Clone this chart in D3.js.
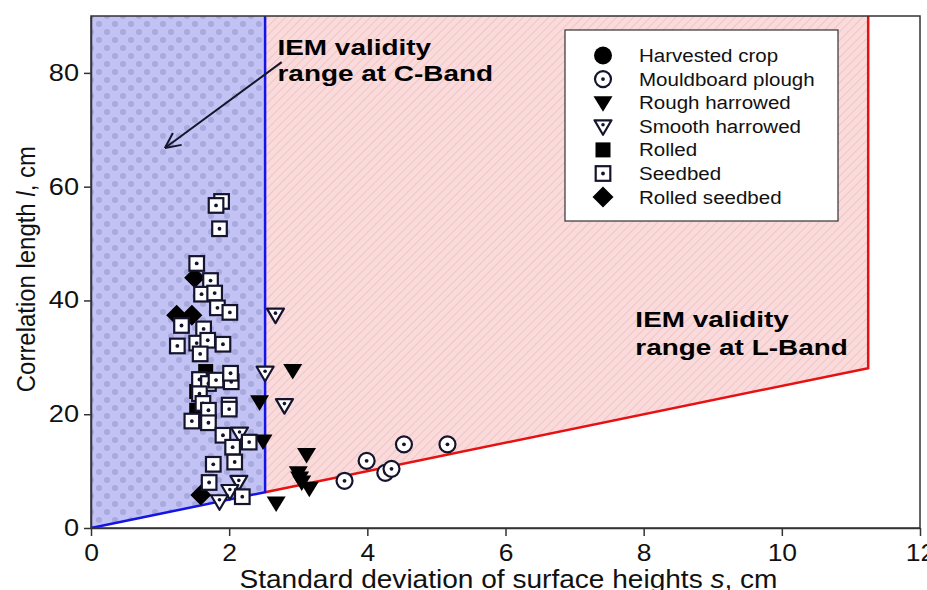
<!DOCTYPE html>
<html>
<head>
<meta charset="utf-8">
<script src="https://cdn.jsdelivr.net/npm/d3@7/dist/d3.min.js"></script>
<style>
  body { margin: 0; background: #fff; }
  text { font-family: "Liberation Sans", Arial, sans-serif; }
</style>
</head>
<body>
<div id="chart"></div>
<script>
// data: [s (cm), l (cm)]
var harvested = [];
var mouldboard = [[3.67,8.3],[3.99,11.8],[4.26,9.7],[4.35,10.4],[4.53,14.7],[5.16,14.7]];
var roughHarrowed = [[2.92,27.7],[2.44,22.2],[2.49,15.3],[3.12,12.9],[3.00,9.7],[3.02,8.8],[3.05,8.1],[3.16,7.0],[2.68,4.4]];
var smoothHarrowed = [[2.67,37.5],[2.52,27.3],[2.80,21.6],[2.15,16.6],[2.14,8.1],[2.01,6.5],[1.86,4.7]];
var rolled = [[1.66,27.5],[1.53,24.0],[1.53,20.7]];
var rolledSeedbed = [[1.50,44.0],[1.24,37.4],[1.46,37.4],[1.59,5.8]];
var seedbed = [[1.89,57.4],[1.81,56.7],[1.86,52.6],[1.53,46.5],[1.73,43.5],
  [1.60,41.1],[1.79,41.3],[1.83,38.7],[2.01,37.9],
  [1.31,35.6],[1.63,35.0],[1.25,32.0],[1.53,32.5],[1.69,33.0],[1.91,32.3],[1.58,30.6],
  [1.57,26.1],[1.70,25.4],[1.81,26.0],[2.03,25.7],[2.02,27.2],
  [1.57,23.6],[1.62,21.9],[1.70,20.7],[2.00,21.6],[2.00,20.9],
  [1.46,18.8],[1.70,18.5],[1.91,16.3],[2.05,14.2],[2.29,15.1],
  [1.77,11.2],[2.08,11.6],[1.71,8.0],[2.19,5.5]];

// validity ranges (polygons in data units)
var cBand = [[0,0],[2.52,6.3],[2.52,90],[0,90]];
var lBand = [[2.52,6.3],[11.25,28.1],[11.25,90],[2.52,90]];

var xTicks = [0,2,4,6,8,10,12];
var yTicks = [0,20,40,60,80];
var legendNames = ["Harvested crop","Mouldboard plough","Rough harrowed","Smooth harrowed","Rolled","Seedbed","Rolled seedbed"];

//Set Margins
var margin = {top: 16, right: 7, bottom: 62, left: 91},
    width = 927 - margin.left - margin.right,
    height = 590 - margin.top - margin.bottom;

var svgRoot = d3.select("#chart").append("svg")
    .attr("width", 927).attr("height", 590);

var defs = svgRoot.append("defs");

// dotted blue fill
var pb = defs.append("pattern").attr("id", "dotsBlue")
  .attr("patternUnits", "userSpaceOnUse").attr("width", 16).attr("height", 16);
pb.append("rect").attr("width", 16).attr("height", 16).attr("fill", "#c2c2f4");
[[0,0],[16,0],[0,16],[16,16],[8,8]].forEach(function(p) {
  pb.append("circle").attr("cx", p[0]).attr("cy", p[1]).attr("r", 3).attr("fill", "#a8a9dc");
});

// hatched pink fill
var pp = defs.append("pattern").attr("id", "hatchPink")
  .attr("patternUnits", "userSpaceOnUse").attr("width", 6).attr("height", 6)
  .attr("patternTransform", "rotate(45)");
pp.append("rect").attr("width", 6).attr("height", 6).attr("fill", "#fadada");
pp.append("line").attr("x1", 0).attr("y1", 0).attr("x2", 0).attr("y2", 6)
  .attr("stroke", "#eec6c6").attr("stroke-width", 2);

var svg = svgRoot.append("g")
    .attr("transform", "translate(" + margin.left + "," + margin.top + ")");

var x = d3.scaleLinear().domain([0, 12]).range([0, width]);
var y = d3.scaleLinear().domain([0, 90]).range([height, 0]);

var line = d3.line().x(function(d) { return x(d[0]); }).y(function(d) { return y(d[1]); });

// stretch text horizontally like the source picture
function stretch(sel, k) {
  sel.each(function() {
    var w = this.getComputedTextLength();
    d3.select(this).attr("textLength", w * k).attr("lengthAdjust", "spacingAndGlyphs");
  });
}

// regions
svg.append("path").attr("d", line(cBand) + "Z").attr("fill", "url(#dotsBlue)");
svg.append("path").attr("d", line(lBand) + "Z").attr("fill", "url(#hatchPink)");

svg.append("path")
  .attr("d", line([lBand[0], lBand[1], lBand[2]]))
  .attr("fill", "none").attr("stroke", "#e81010").attr("stroke-width", 2.5);
svg.append("path")
  .attr("d", line([cBand[0], cBand[1], cBand[2]]))
  .attr("fill", "none").attr("stroke", "#1414e6").attr("stroke-width", 2.5);

// frame
svg.append("rect").attr("width", width).attr("height", height)
  .attr("fill", "none").attr("stroke", "#333").attr("stroke-width", 1.5);

// axes
var xAxis = svg.append("g").attr("transform", "translate(0," + height + ")")
  .call(d3.axisBottom(x).tickValues(xTicks).tickSize(8).tickSizeOuter(0).tickPadding(8));
var yAxis = svg.append("g")
  .call(d3.axisLeft(y).tickValues(yTicks).tickSize(7).tickSizeOuter(0).tickPadding(5));
[xAxis, yAxis].forEach(function(a) {
  a.select(".domain").attr("stroke", "#333").attr("stroke-width", 1.5);
  a.selectAll(".tick line").attr("stroke", "#333").attr("stroke-width", 1.5);
  a.selectAll(".tick text").style("font-size", "23px").attr("fill", "#111")
    .style("font-family", "Liberation Sans, Arial, sans-serif");
});
xAxis.selectAll(".tick text").attr("dy", "0.72em");
stretch(xAxis.selectAll(".tick text"), 1.15);
stretch(yAxis.selectAll(".tick text"), 1.18);

// axis titles
var xt = svg.append("text")
  .attr("x", width / 2 + 3).attr("y", height + 60)
  .attr("text-anchor", "middle").style("font-size", "25px").attr("fill", "#111");
xt.append("tspan").text("Standard deviation of surface heights ");
xt.append("tspan").style("font-style", "italic").text("s");
xt.append("tspan").text(", cm");
xt.attr("textLength", 538).attr("lengthAdjust", "spacingAndGlyphs");

var yt = svg.append("text")
  .attr("transform", "translate(" + (-56) + "," + y(45.5) + ") rotate(-90)")
  .attr("text-anchor", "middle").style("font-size", "25px").attr("fill", "#111");
yt.append("tspan").text("Correlation length ");
yt.append("tspan").style("font-style", "italic").text("l");
yt.append("tspan").text(", cm");
yt.attr("textLength", 246).attr("lengthAdjust", "spacingAndGlyphs");

// annotations
function note(lines, s, ls) {
  lines.forEach(function(t, i) {
    var tx = svg.append("text").attr("x", x(s)).attr("y", y(ls[i]))
      .style("font-size", "22.5px").style("font-weight", "bold").attr("fill", "#000").text(t);
    stretch(tx, 1.24);
  });
}
note(["IEM validity", "range at C-Band"], 2.70, [83.2, 78.5]);
note(["IEM validity", "range at L-Band"], 7.88, [35.3, 30.4]);

// arrow
var a0 = [2.76, 81.9], a1 = [1.07, 66.8];
svg.append("path").attr("d", line([a0, a1]))
  .attr("stroke", "#15152a").attr("stroke-width", 2).attr("fill", "none");
var ang = Math.atan2(y(a0[1]) - y(a1[1]), x(a0[0]) - x(a1[0]));
[-0.45, 0.45].forEach(function(da) {
  svg.append("line")
    .attr("x1", x(a1[0])).attr("y1", y(a1[1]))
    .attr("x2", x(a1[0]) + 17 * Math.cos(ang + da))
    .attr("y2", y(a1[1]) + 17 * Math.sin(ang + da))
    .attr("stroke", "#15152a").attr("stroke-width", 2);
});

// markers
var ink = "#14142e";
function drawMarker(g, kind) {
  if (kind === 0) {
    g.append("circle").attr("r", 9).attr("fill", "#000");
  } else if (kind === 1) {
    g.append("circle").attr("r", 8).attr("fill", "#fff").attr("stroke", ink).attr("stroke-width", 2.2);
    g.append("circle").attr("r", 1.9).attr("fill", ink);
  } else if (kind === 2) {
    g.append("path").attr("d", "M-9.5,-6.5L9.5,-6.5L0,9Z").attr("fill", "#000");
  } else if (kind === 3) {
    g.append("path").attr("d", "M-8.5,-6L8.5,-6L0,8.5Z").attr("fill", "#fff")
      .attr("stroke", ink).attr("stroke-width", 2.2).attr("stroke-linejoin", "round");
    g.append("circle").attr("cy", -1.5).attr("r", 1.8).attr("fill", ink);
  } else if (kind === 4) {
    g.append("rect").attr("x", -7.5).attr("y", -7.5).attr("width", 15).attr("height", 15).attr("fill", "#000");
  } else if (kind === 5) {
    g.append("rect").attr("x", -7.3).attr("y", -7.3).attr("width", 14.6).attr("height", 14.6)
      .attr("fill", "#fff").attr("stroke", ink).attr("stroke-width", 2.2);
    g.append("circle").attr("r", 1.9).attr("fill", ink);
  } else {
    g.append("path").attr("d", "M0,-10.5L10.5,0L0,10.5L-10.5,0Z").attr("fill", "#000");
  }
}

var layers = [
  {kind: 0, data: harvested},
  {kind: 1, data: mouldboard},
  {kind: 2, data: roughHarrowed},
  {kind: 3, data: smoothHarrowed},
  {kind: 4, data: rolled},
  {kind: 6, data: rolledSeedbed},
  {kind: 5, data: seedbed}
];
layers.forEach(function(layer) {
  svg.append("g").selectAll("g")
    .data(layer.data)
    .enter().append("g")
      .attr("transform", function(d) { return "translate(" + x(d[0]) + "," + y(d[1]) + ")"; })
      .each(function() { drawMarker(d3.select(this), layer.kind); });
});

// legend
var legend = svgRoot.append("g").attr("transform", "translate(565,30)");
legend.append("rect").attr("width", 273).attr("height", 191)
  .attr("fill", "#fff").attr("stroke", "#333").attr("stroke-width", 1.2);
legendNames.forEach(function(name, i) {
  var row = legend.append("g").attr("transform", "translate(0," + (25.5 + i * 23.6) + ")");
  var m = row.append("g").attr("transform", "translate(38,0)");
  drawMarker(m, i === 6 ? 6 : i);
  var t = row.append("text").attr("x", 74).attr("y", 6.5)
    .style("font-size", "18px").attr("fill", "#111").text(name);
  stretch(t, 1.14);
});
</script>
</body>
</html>
